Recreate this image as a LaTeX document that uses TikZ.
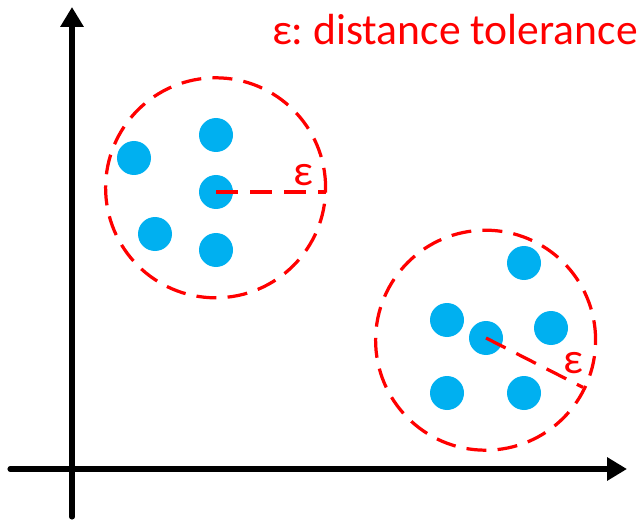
\documentclass[tikz,border=0pt]{standalone}
\usepackage{fontspec}
\setmainfont{Carlito}
\usetikzlibrary{arrows.meta, positioning, calc}
\definecolor{ptBlue}{RGB}{0,176,240}
\definecolor{tolRed}{RGB}{255,0,0}

\begin{document}
\begin{tikzpicture}[
    dot/.style={circle, fill=ptBlue, inner sep=0pt, minimum size=8.5mm},
    ring/.style={circle, draw=tolRed, line width=2.3pt, dash pattern=on 5mm off 2.8mm, inner sep=0pt, minimum size=5.5cm},
    radius/.style={draw=tolRed, line width=2.3pt, dash pattern=on 5.5mm off 3mm},
    axis/.style={line width=3.6pt, line cap=round, -{Triangle[length=5mm,width=5.6mm]}},
    lbl/.style={text=tolRed, font=\fontsize{31}{36}\selectfont, inner sep=0pt}
]
    \useasboundingbox (0,0) rectangle (16.075,13.125);
    % axes
    \coordinate (ybot) at (1.8,0.2);
    \coordinate (ytop) at (1.8,12.95);
    \coordinate (xleft) at (0.25,1.4);
    \coordinate (xright) at (15.675,1.4);
    \draw[axis] (ybot) -- (ytop);
    \draw[axis] (xleft) -- (xright);
    \node[lbl, anchor=base east] (legend) at (15.95,12.0) {ε:\ distance tolerance};

    % first cluster
    \node[ring] (ring1) at (5.39,8.43) {};
    \node[dot] (a1) at (5.4,9.75) {};
    \node[dot] (a2) at (3.35,9.175) {};
    \node[dot] (a3) at (5.4,8.325) {};
    \node[dot] (a4) at (3.875,7.275) {};
    \node[dot] (a5) at (5.4,6.875) {};
    \coordinate (tip1) at ($(a3.center)+(0:2.74)$);
    \draw[radius] (a3.center) -- (tip1);
    \node[lbl] (eps1) at (7.575,8.75) {ε};

    % second cluster
    \node[ring] (ring2) at (12.14,4.62) {};
    \node[dot] (b1) at (13.1,6.55) {};
    \node[dot] (b2) at (11.175,5.125) {};
    \node[dot] (b3) at (12.15,4.675) {};
    \node[dot] (b4) at (13.775,4.925) {};
    \node[dot] (b5) at (11.175,3.3) {};
    \node[dot] (b6) at (13.1,3.3) {};
    \coordinate (tip2) at ($(b3.center)+(-27:2.72)$);
    \draw[radius] (b3.center) -- (tip2);
    \node[lbl] (eps2) at (14.325,4.05) {ε};
\end{tikzpicture}
\end{document}
